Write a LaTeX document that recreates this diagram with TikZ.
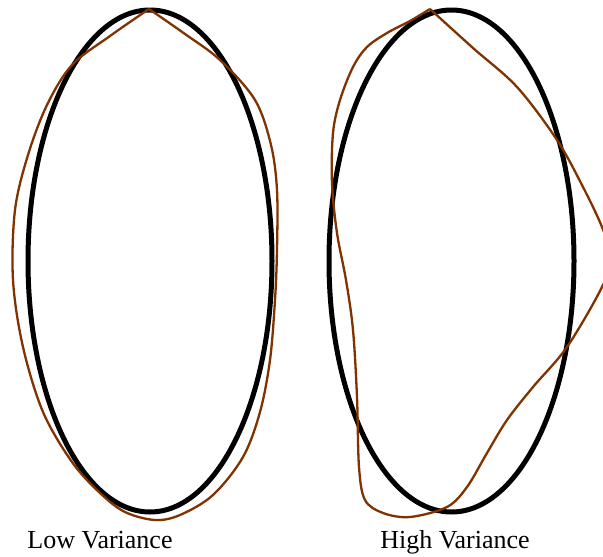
\documentclass[tikz,border=0pt]{standalone}
\usepackage{fontspec}
\setmainfont{Liberation Serif}
\definecolor{curvebrown}{RGB}{128,50,0}
\tikzset{
  bigoval/.style={draw=black, line width=5pt},
  wobbly/.style={draw=curvebrown, line width=2.3pt, line join=miter},
  caption/.style={font=\fontsize{26}{31}\selectfont, anchor=base}
}
\begin{document}
\begin{tikzpicture}[x=1pt,y=-1pt]
\useasboundingbox (0,0) rectangle (603,557);
\clip (0,0) rectangle (603,557);
\fill[white] (0,0) rectangle (603,557);
% left
\draw[bigoval] (150,261) ellipse [x radius=122, y radius=251];
\draw[wobbly] plot[smooth, tension=0.55] coordinates {
 (149,9) (185,34) (220,60) (255,100) (271,145) (277,190) (277,250) (275,300)
 (270,360) (260,412) (243,457) (213,495) (180,515) (155,520) (125,512)
 (100,493) (72,462) (43,412) (23,347) (13,280) (15,210) (28,155) (47,105)
 (72,65) (110,36) (149,9)};
% right
\draw[bigoval] (451.5,261) ellipse [x radius=122.5, y radius=251];
\draw[wobbly] plot[smooth, tension=0.55] coordinates {
 (430,9) (473,48) (517,87) (557,140) (583,187) (602,227) (611,257) (602,287)
 (567,347) (533,387) (507,420) (487,453) (467,487) (447,507) (410,517)
 (383,513) (365,500) (359,467) (357,397) (353,330) (346,280) (337,233)
 (332,183) (333,133) (340,100) (353,67) (367,47) (387,33) (410,21) (430,9)};
\node[caption] (low) at (100,548) {Low Variance};
\node[caption] (high) at (455,548) {High Variance};
\end{tikzpicture}
\end{document}
